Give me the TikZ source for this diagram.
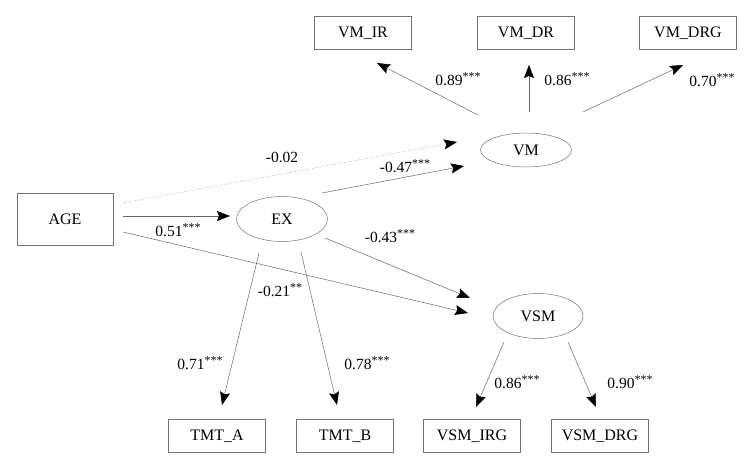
\documentclass[tikz,border=0pt]{standalone}
\usepackage{fontspec}
\setmainfont{Liberation Serif}
\usetikzlibrary{arrows.meta,shapes.geometric}
\tikzset{
  obs/.style={draw=black!55, line width=0.5pt, minimum width=97pt, minimum height=33pt, inner sep=0pt, font=\fontsize{16}{18}\selectfont},
  lat/.style={draw=black!55, line width=0.5pt, ellipse, minimum width=91pt, minimum height=45pt, inner sep=0pt, font=\fontsize{16}{18}\selectfont},
  arr/.style={draw=black!60, line width=0.5pt, -{Stealth[length=13pt,width=10pt,inset=2pt,black]}},
  lbl/.style={font=\fontsize{15.5}{17}\selectfont, inner sep=0pt},
}
\newcommand{\stars}[1]{\raisebox{4.5pt}{\fontsize{12}{12}\selectfont #1}}
\begin{document}
\begin{tikzpicture}[x=1pt,y=-1pt]
\useasboundingbox (0,0) rectangle (756,469);
% observed
\node[obs] (ir) at (363,33) {VM\_IR};
\node[obs] (dr) at (526,33) {VM\_DR};
\node[obs] (drg) at (688,33) {VM\_DRG};
\node[obs, minimum height=52pt, minimum width=96pt] (age) at (65,219) {AGE};
\node[obs] (tmta) at (217,436) {TMT\_A};
\node[obs] (tmtb) at (345,436) {TMT\_B};
\node[obs] (irg) at (472,436) {VSM\_IRG};
\node[obs] (vdrg) at (600,436) {VSM\_DRG};
% latent
\node[lat, minimum height=34pt] (vm) at (526,150) {VM};
\node[lat] (ex) at (282,219) {EX};
\node[lat, minimum width=90pt] (vsm) at (538,316) {VSM};
% connectors
\draw[arr] ([shift={(-48,-35)}]vm.center) -- ([shift={(14,30)}]ir.center);
\draw[arr] ([shift={(3,-38)}]vm.center) -- ([shift={(3,32)}]dr.center);
\draw[arr] ([shift={(57,-38)}]vm.center) -- ([shift={(-5,32)}]drg.center);
\draw[arr, dotted] ([shift={(58,-16)}]age.center) -- ([shift={(-69,-8)}]vm.center);
\draw[arr] ([shift={(58,-3)}]age.center) -- ([shift={(-52,-3)}]ex.center);
\draw[arr] ([shift={(58,13)}]age.center) -- ([shift={(-70,-3)}]vsm.center);
\draw[arr] ([shift={(40,-26)}]ex.center) -- ([shift={(-62,16)}]vm.center);
\draw[arr] ([shift={(43,19)}]ex.center) -- ([shift={(-68,-18)}]vsm.center);
\draw[arr] ([shift={(-23,34)}]ex.center) -- ([shift={(5,-31)}]tmta.center);
\draw[arr] ([shift={(19,33)}]ex.center) -- ([shift={(-8,-31)}]tmtb.center);
\draw[arr] ([shift={(-34,26)}]vsm.center) -- ([shift={(4,-29)}]irg.center);
\draw[arr] ([shift={(30,26)}]vsm.center) -- ([shift={(-4,-29)}]vdrg.center);
% labels
\node[lbl] (l1) at (458,79) {0.89\stars{***}};
\node[lbl] (l2) at (567,79) {0.86\stars{***}};
\node[lbl] (l3) at (712,80) {0.70\stars{***}};
\node[lbl] (l4) at (282,157) {-0.02};
\node[lbl] (l5) at (405,166) {-0.47\stars{***}};
\node[lbl] (l6) at (178,230) {0.51\stars{***}};
\node[lbl] (l7) at (280,290) {-0.21\stars{**}};
\node[lbl] (l8) at (390,236) {-0.43\stars{***}};
\node[lbl] (l9) at (200,363) {0.71\stars{***}};
\node[lbl] (l10) at (367,363) {0.78\stars{***}};
\node[lbl] (l11) at (517,382) {0.86\stars{***}};
\node[lbl] (l12) at (630,382) {0.90\stars{***}};
\end{tikzpicture}
\end{document}
